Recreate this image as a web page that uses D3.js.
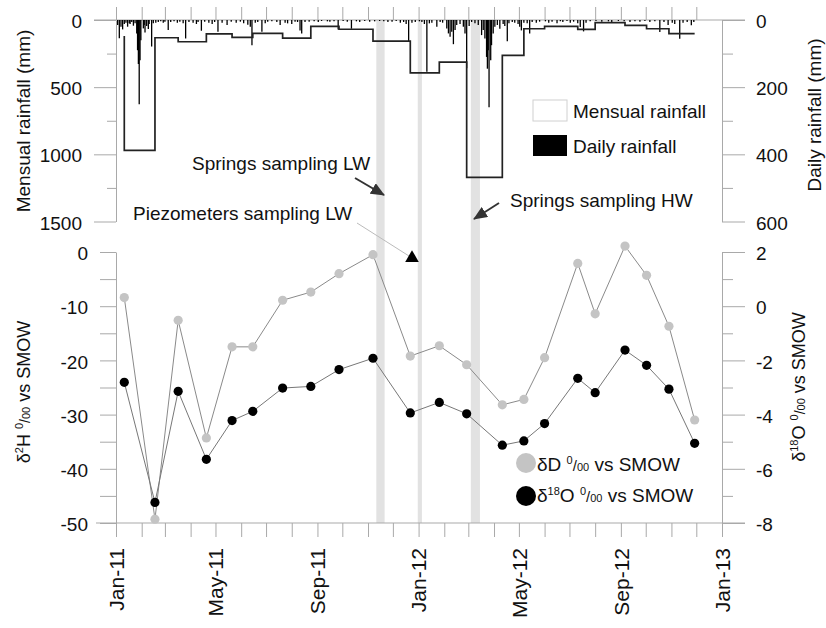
<!DOCTYPE html>
<html>
<head>
<meta charset="utf-8">
<script src="https://cdn.jsdelivr.net/npm/d3@7"></script>
<style>
  body { margin: 0; background: #fff; }
  svg { font-family: "Liberation Sans", Arial, sans-serif; }
</style>
</head>
<body>
<svg id="chart" width="826" height="628"></svg>
<script>
// sampling dates of springs / piezometers
const sampleDates = ["2011-01-11","2011-02-17","2011-03-17","2011-04-20","2011-05-21","2011-06-15",
  "2011-07-21","2011-08-24","2011-09-27","2011-11-07","2011-12-22","2012-01-26","2012-02-28",
  "2012-04-11","2012-05-07","2012-06-01","2012-07-11","2012-08-01","2012-09-06","2012-10-02",
  "2012-10-29","2012-11-29"];

// isotopes (per mil vs SMOW)
const deltaD = [-8.4,-49.3,-12.6,-34.3,-17.5,-17.5,-8.9,-7.4,-4.0,-0.5,-19.2,-17.3,-20.8,
  -28.2,-27.2,-19.5,-2.1,-11.4,1.1,-4.3,-13.7,-31.0];
const delta18O = [-2.81,-7.24,-3.14,-5.65,-4.22,-3.88,-3.02,-2.96,-2.34,-1.92,-3.94,-3.55,-3.97,
  -5.13,-4.97,-4.33,-2.66,-3.19,-1.62,-2.18,-3.06,-5.06];

// cumulated rainfall between two samplings (mm), one value per interval
const mensualLead = 120;
const mensualRain = [970,132,162,104,129,100,135,47,69,157,393,313,1172,263,65,48,70,20,40,65,102];

// daily rainfall: [day since 1 Jan 2011, mm]
const dailyRain = [[2,15],[4,54],[6,20],[8,28],[10,12],[12,8],[14,20],[16,10],[17,12],[19,6],[21,17],
  [23,10],[25,40],[26,90],[27,131],[28,251],[29,120],[30,60],[33,25],[34,15],[35,37],[37,18],[39,27],
  [40,12],[43,79],[45,10],[48,8],[51,6],[54,4],[57,8],[59,5],[63,30],[66,6],[70,4],[74,8],[77,5],
  [81,10],[84,55],[88,6],[93,8],[97,12],[99,6],[103,32],[107,5],[112,8],[116,12],[119,6],[123,35],
  [128,8],[134,15],[139,5],[145,8],[150,5],[154,10],[159,14],[162,20],[164,75],[168,8],[171,6],
  [176,35],[180,10],[183,5],[188,4],[194,6],[198,15],[204,8],[207,10],[212,12],[216,5],[219,6],
  [222,31],[224,40],[228,6],[233,5],[239,4],[244,6],[248,3],[255,4],[258,5],[263,4],[268,28],[274,3],
  [279,5],[284,26],[290,4],[294,6],[300,3],[306,5],[312,4],[318,3],[323,4],[328,6],[333,5],[338,3],
  [343,8],[347,6],[350,12],[353,63],[357,8],[361,6],[366,4],[369,6],[372,12],[375,154],[378,10],
  [381,8],[387,20],[391,6],[394,8],[399,25],[401,40],[403,50],[405,35],[407,72],[409,30],[411,15],
  [415,12],[419,20],[421,40],[423,144],[426,18],[429,6],[433,10],[437,15],[441,45],[443,30],[445,55],
  [447,110],[448,145],[449,90],[450,260],[452,120],[453,75],[455,40],[457,20],[460,15],[463,26],
  [467,12],[469,18],[472,63],[474,10],[478,6],[481,8],[485,12],[487,20],[489,31],[492,8],[496,10],
  [499,40],[502,6],[507,8],[511,5],[518,4],[522,8],[526,5],[532,10],[536,4],[539,6],[544,3],[548,8],
  [552,5],[557,10],[560,21],[564,34],[567,8],[572,4],[579,3],[586,5],[594,4],[598,6],[606,3],[613,4],
  [620,6],[626,4],[632,5],[638,3],[644,6],[650,4],[656,36],[661,6],[666,15],[671,8],[674,12],[680,56],
  [684,8],[689,6],[694,16],[697,6]];

// sampling campaigns (grey bands)
const samplingBands = [["2011-11-11","2011-11-21"],["2011-12-31","2012-01-05"],["2012-03-04","2012-03-15"]];

// tick labels
const mensualTicks = [0,500,1000,1500];
const dailyTicks = [0,200,400,600];
const deltaDTicks = [-50,-40,-30,-20,-10,0];
const delta18OTicks = [-8,-6,-4,-2,0,2];
const xTickLabels = ["Jan-11","May-11","Sep-11","Jan-12","May-12","Sep-12","Jan-13"];

const svg = d3.select("#chart");
const parse = d3.timeParse("%Y-%m-%d");
const day0 = new Date(2011, 0, 1);
const axisCol = "#a9a9a9";

const x = d3.scaleTime().domain([day0, new Date(2013, 0, 1)]).range([116, 722]);
const yMens = d3.scaleLinear().domain([0, 1500]).range([20, 221.5]);
const yDaily = d3.scaleLinear().domain([0, 600]).range([20, 221.5]);
const yD = d3.scaleLinear().domain([-50, 0]).range([523, 252]);
const yO = d3.scaleLinear().domain([-8, 2]).range([523, 252]);

const dates = sampleDates.map(parse);

// grey bands behind everything
svg.append("g").selectAll("rect")
  .data(samplingBands)
  .join("rect")
  .attr("x", d => x(parse(d[0])))
  .attr("width", d => x(parse(d[1])) - x(parse(d[0])))
  .attr("y", yMens(0))
  .attr("height", yD(-50) - yMens(0))
  .attr("fill", "#e2e2e2");

// helper to style an axis group
function styleAxis(g) {
  g.select(".domain").attr("stroke", axisCol);
  g.selectAll(".tick line").attr("stroke", axisCol);
  g.selectAll("text").attr("fill", "#111").attr("font-size", 19).attr("font-family", null);
}

// ---------- top panel axes ----------
// zero line of rainfall
svg.append("line")
  .attr("x1", 94).attr("x2", 745)
  .attr("y1", yMens(0)).attr("y2", yMens(0))
  .attr("stroke", axisCol);

// month ticks pointing up
const topMonths = d3.timeMonth.range(day0, new Date(2012, 11, 2));
const topAx = svg.append("g")
  .attr("transform", `translate(0,${yMens(0)})`)
  .call(d3.axisTop(x).tickValues(topMonths).tickSize(13).tickFormat(""));
topAx.select(".domain").remove();
topAx.selectAll(".tick line").attr("stroke", axisCol);

const leftTop = svg.append("g")
  .attr("transform", "translate(116,0)")
  .call(d3.axisLeft(yMens).tickValues(d3.range(0, 1501, 250)).tickSize(22).tickSizeOuter(0).tickPadding(12)
    .tickFormat(d => mensualTicks.includes(d) ? d : ""));
styleAxis(leftTop);
leftTop.selectAll(".tick line").attr("x2", d => mensualTicks.includes(d) ? -22 : -9);
leftTop.selectAll("text").attr("dy", "0.4em");

const rightTop = svg.append("g")
  .attr("transform", "translate(722,0)")
  .call(d3.axisRight(yDaily).tickValues(d3.range(0, 601, 100)).tickSize(23).tickSizeOuter(0).tickPadding(11)
    .tickFormat(d => dailyTicks.includes(d) ? d : ""));
styleAxis(rightTop);
rightTop.selectAll(".tick line").attr("x2", d => dailyTicks.includes(d) ? 23 : 11);
rightTop.selectAll("text").attr("dy", "0.4em");

// daily rainfall bars
svg.append("g").selectAll("line")
  .data(dailyRain)
  .join("line")
  .attr("x1", d => x(d3.timeDay.offset(day0, d[0])))
  .attr("x2", d => x(d3.timeDay.offset(day0, d[0])))
  .attr("y1", yDaily(0))
  .attr("y2", d => yDaily(d[1]))
  .attr("stroke", "#000")
  .attr("stroke-width", 1.3);

// mensual rainfall as steps between sampling dates
const stepPts = [[dates[0], mensualLead]]
  .concat(mensualRain.map((v, i) => [dates[i], v]))
  .concat([[dates[dates.length - 1], mensualRain[mensualRain.length - 1]]]);
svg.append("path")
  .datum(stepPts)
  .attr("fill", "none")
  .attr("stroke", "#222")
  .attr("stroke-width", 1.7)
  .attr("d", d3.line().x(d => x(d[0])).y(d => yMens(d[1])).curve(d3.curveStepAfter));

// legend rainfall
svg.append("rect").attr("x", 533).attr("y", 100).attr("width", 34).attr("height", 21)
  .attr("fill", "#fff").attr("stroke", "#d0d0d0");
svg.append("rect").attr("x", 533).attr("y", 135).attr("width", 34).attr("height", 21)
  .attr("fill", "#000");
svg.append("text").attr("x", 573).attr("y", 118).attr("font-size", 19).attr("fill", "#111").text("Mensual rainfall");
svg.append("text").attr("x", 573).attr("y", 153).attr("font-size", 19).attr("fill", "#111").text("Daily rainfall");

// titles top panel
svg.append("text")
  .attr("transform", "translate(30,121) rotate(-90)")
  .attr("text-anchor", "middle").attr("font-size", 19).attr("fill", "#111")
  .text("Mensual rainfall (mm)");
svg.append("text")
  .attr("transform", "translate(821,115) rotate(-90)")
  .attr("text-anchor", "middle").attr("font-size", 19).attr("fill", "#111")
  .text("Daily rainfall (mm)");

// ---------- bottom panel axes ----------
svg.append("line")
  .attr("x1", 96).attr("x2", 745)
  .attr("y1", yD(-50)).attr("y2", yD(-50))
  .attr("stroke", axisCol);

const allMonths = d3.timeMonth.range(day0, new Date(2013, 0, 2));
const bottomAx = svg.append("g")
  .attr("transform", `translate(0,${yD(-50)})`)
  .call(d3.axisBottom(x).tickValues(allMonths).tickSize(14)
    .tickFormat((d, i) => i % 4 === 0 ? xTickLabels[i / 4] : ""));
bottomAx.select(".domain").remove();
bottomAx.selectAll(".tick line").attr("stroke", axisCol);
bottomAx.selectAll("text")
  .attr("fill", "#111").attr("font-size", 21)
  .attr("text-anchor", "end")
  .attr("transform", "rotate(-90)")
  .attr("x", -25).attr("y", 0).attr("dy", "0.35em");

const leftBot = svg.append("g")
  .attr("transform", "translate(116,0)")
  .call(d3.axisLeft(yD).tickValues(d3.range(-50, 1, 5)).tickSize(16).tickSizeOuter(0).tickPadding(12)
    .tickFormat(d => deltaDTicks.includes(d) ? d : ""));
styleAxis(leftBot);
leftBot.selectAll("text").attr("dy", "0.4em");

const rightBot = svg.append("g")
  .attr("transform", "translate(722,0)")
  .call(d3.axisRight(yO).tickValues(d3.range(-8, 3, 1)).tickSize(23).tickSizeOuter(0).tickPadding(11)
    .tickFormat(d => delta18OTicks.includes(d) ? d : ""));
styleAxis(rightBot);
rightBot.selectAll(".tick line").attr("x2", d => delta18OTicks.includes(d) ? 23 : 11);
rightBot.selectAll("text").attr("dy", "0.4em");

// isotope series
const pts = dates.map((d, i) => ({ date: d, dD: deltaD[i], o18: delta18O[i] }));
const lineD = d3.line().x(d => x(d.date)).y(d => yD(d.dD));
const lineO = d3.line().x(d => x(d.date)).y(d => yO(d.o18));
svg.append("path").datum(pts).attr("d", lineD).attr("fill", "none").attr("stroke", "#8a8a8a").attr("stroke-width", 1);
svg.append("path").datum(pts).attr("d", lineO).attr("fill", "none").attr("stroke", "#777").attr("stroke-width", 1);
svg.append("g").selectAll("circle").data(pts).join("circle")
  .attr("cx", d => x(d.date)).attr("cy", d => yD(d.dD)).attr("r", 4.6).attr("fill", "#c4c4c4");
svg.append("g").selectAll("circle").data(pts).join("circle")
  .attr("cx", d => x(d.date)).attr("cy", d => yO(d.o18)).attr("r", 4.6).attr("fill", "#000");

// delta label with superscripts, e.g. δ18O ‰ vs SMOW
function deltaLabel(t, fs, iso, el) {
  const s = Math.round(fs * 0.6);
  t.append("tspan").text("δ");
  if (iso) {
    t.append("tspan").attr("font-size", s).attr("dy", -fs * 0.38).text(iso);
    t.append("tspan").attr("dy", fs * 0.38).text(el);
  } else {
    t.append("tspan").text(el);
  }
  t.append("tspan").text(" ");
  t.append("tspan").attr("font-size", s).attr("dy", -fs * 0.38).text("0");
  t.append("tspan").attr("font-size", Math.round(fs * 0.8)).attr("dy", fs * 0.38).text("/");
  t.append("tspan").attr("font-size", s).text("00");
  t.append("tspan").text(" vs SMOW");
}

// legend isotopes
svg.append("circle").attr("cx", 526).attr("cy", 463).attr("r", 10).attr("fill", "#c4c4c4");
svg.append("circle").attr("cx", 526).attr("cy", 496).attr("r", 10).attr("fill", "#000");
deltaLabel(svg.append("text").attr("x", 537).attr("y", 471).attr("font-size", 19).attr("fill", "#111"), 19, "", "D");
deltaLabel(svg.append("text").attr("x", 537).attr("y", 502).attr("font-size", 19).attr("fill", "#111"), 19, "18", "O");

// titles bottom panel
deltaLabel(svg.append("text")
  .attr("transform", "translate(30,392) rotate(-90)")
  .attr("text-anchor", "middle").attr("font-size", 18).attr("fill", "#111"), 18, "2", "H");
deltaLabel(svg.append("text")
  .attr("transform", "translate(805,387) rotate(-90)")
  .attr("text-anchor", "middle").attr("font-size", 18).attr("fill", "#111"), 18, "18", "O");

// ---------- annotations ----------
const defs = svg.append("defs");
defs.append("marker")
  .attr("id", "arrow").attr("markerUnits", "userSpaceOnUse")
  .attr("viewBox", "0 0 14 12").attr("refX", 13).attr("refY", 6)
  .attr("markerWidth", 14).attr("markerHeight", 12).attr("orient", "auto")
  .append("path").attr("d", "M0,0 L14,6 L0,12 Z").attr("fill", "#333");

svg.append("text").attr("x", 192).attr("y", 170).attr("font-size", 19).attr("fill", "#111").text("Springs sampling LW");
svg.append("line").attr("x1", 355).attr("y1", 178).attr("x2", 384).attr("y2", 195)
  .attr("stroke", "#333").attr("stroke-width", 2).attr("marker-end", "url(#arrow)");

svg.append("text").attr("x", 133).attr("y", 220).attr("font-size", 19).attr("fill", "#111").text("Piezometers sampling LW");
svg.append("line").attr("x1", 357).attr("y1", 223).attr("x2", 409).attr("y2", 256)
  .attr("stroke", "#bbb").attr("stroke-width", 1);
svg.append("path")
  .attr("transform", "translate(412,258)")
  .attr("d", d3.symbol(d3.symbolTriangle, 80)())
  .attr("fill", "#000");

svg.append("text").attr("x", 510).attr("y", 207).attr("font-size", 19).attr("fill", "#111").text("Springs sampling HW");
svg.append("line").attr("x1", 499).attr("y1", 203).attr("x2", 474).attr("y2", 219)
  .attr("stroke", "#333").attr("stroke-width", 2).attr("marker-end", "url(#arrow)");
</script>
</body>
</html>
